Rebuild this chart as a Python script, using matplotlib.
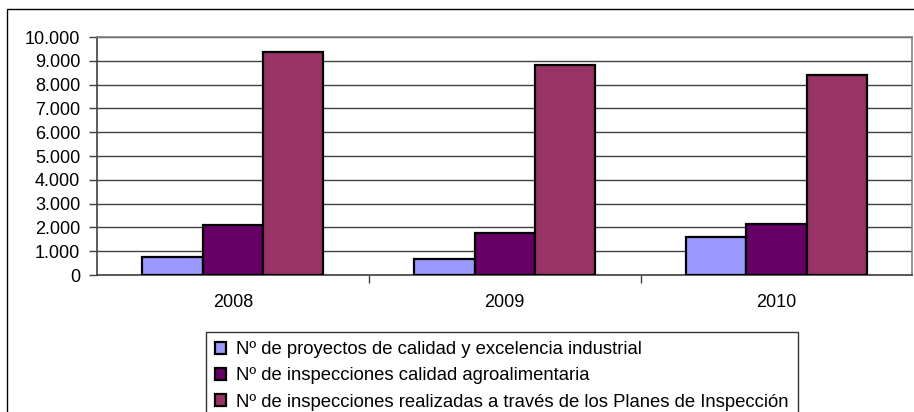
import matplotlib
matplotlib.use('Agg')
import matplotlib.pyplot as plt
import numpy as np
from matplotlib.patches import Rectangle

plt.rcParams['font.family'] = ['Liberation Sans', 'DejaVu Sans']

# data
years = ['2008', '2009', '2010']
proyectos = [770, 670, 1590]
agro = [2100, 1750, 2140]
planes = [9360, 8820, 8400]
series_names = ['Nº de proyectos de calidad y excelencia industrial',
                'Nº de inspecciones calidad agroalimentaria',
                'Nº de inspecciones realizadas a través de los Planes de Inspección']
colors = ['#9999FF', '#660066', '#993366']
yticks = [0, 1000, 2000, 3000, 4000, 5000, 6000, 7000, 8000, 9000, 10000]
ytick_labels = ['0', '1.000', '2.000', '3.000', '4.000', '5.000', '6.000',
                '7.000', '8.000', '9.000', '10.000']

W, H = 914, 412
fs = 13
fig = plt.figure(figsize=(W / 100, H / 100), dpi=100)
ax = fig.add_axes([97 / W, (H - 275) / H, (912.5 - 97) / W, (275 - 37) / H])

x = np.arange(len(years))
w = 0.222
for i, vals in enumerate([proyectos, agro, planes]):
    ax.bar(x + (i - 1) * w, vals, w, color=colors[i], edgecolor='black',
           linewidth=1.6, label=series_names[i], zorder=3)

ax.set_xlim(-0.5, 2.5)
ax.set_ylim(0, 10000)
ax.set_yticks(yticks)
ax.set_yticklabels(ytick_labels, fontsize=fs)
ax.yaxis.grid(True, color='#404040', linewidth=1, zorder=0)
ax.set_axisbelow(True)

ax.set_xticks([0.5, 1.5])
ax.set_xticklabels([])
ax.tick_params(axis='x', length=6, color='#404040', width=1)
ax.tick_params(axis='y', length=6, color='#404040', width=1, pad=6)
for xi, yr in zip(x, years):
    ax.text(xi, -0.115, yr, transform=ax.get_xaxis_transform(),
            ha='center', va='center', fontsize=fs)

for s in ['top', 'right']:
    ax.spines[s].set_color('#808080')
    ax.spines[s].set_linewidth(1.2)
for s in ['left', 'bottom']:
    ax.spines[s].set_color('#404040')
    ax.spines[s].set_linewidth(1.2)

# outer chart border
fig.patches.append(Rectangle((7 / W, -0.1), 1.2, 1 - 9 / H + 0.1,
                             transform=fig.transFigure, fill=False,
                             edgecolor='black', linewidth=1, clip_on=False))

leg = fig.legend(loc='upper left', bbox_to_anchor=(206 / W, 1 - 332 / H),
                 prop={'size': 13.3}, frameon=True, fancybox=False, edgecolor='black',
                 handlelength=0.6, handleheight=0.6, handletextpad=0.55,
                 labelspacing=0.5, borderpad=0.5, borderaxespad=0)
leg.get_frame().set_linewidth(1)

fig.savefig('out.png', dpi=100)
